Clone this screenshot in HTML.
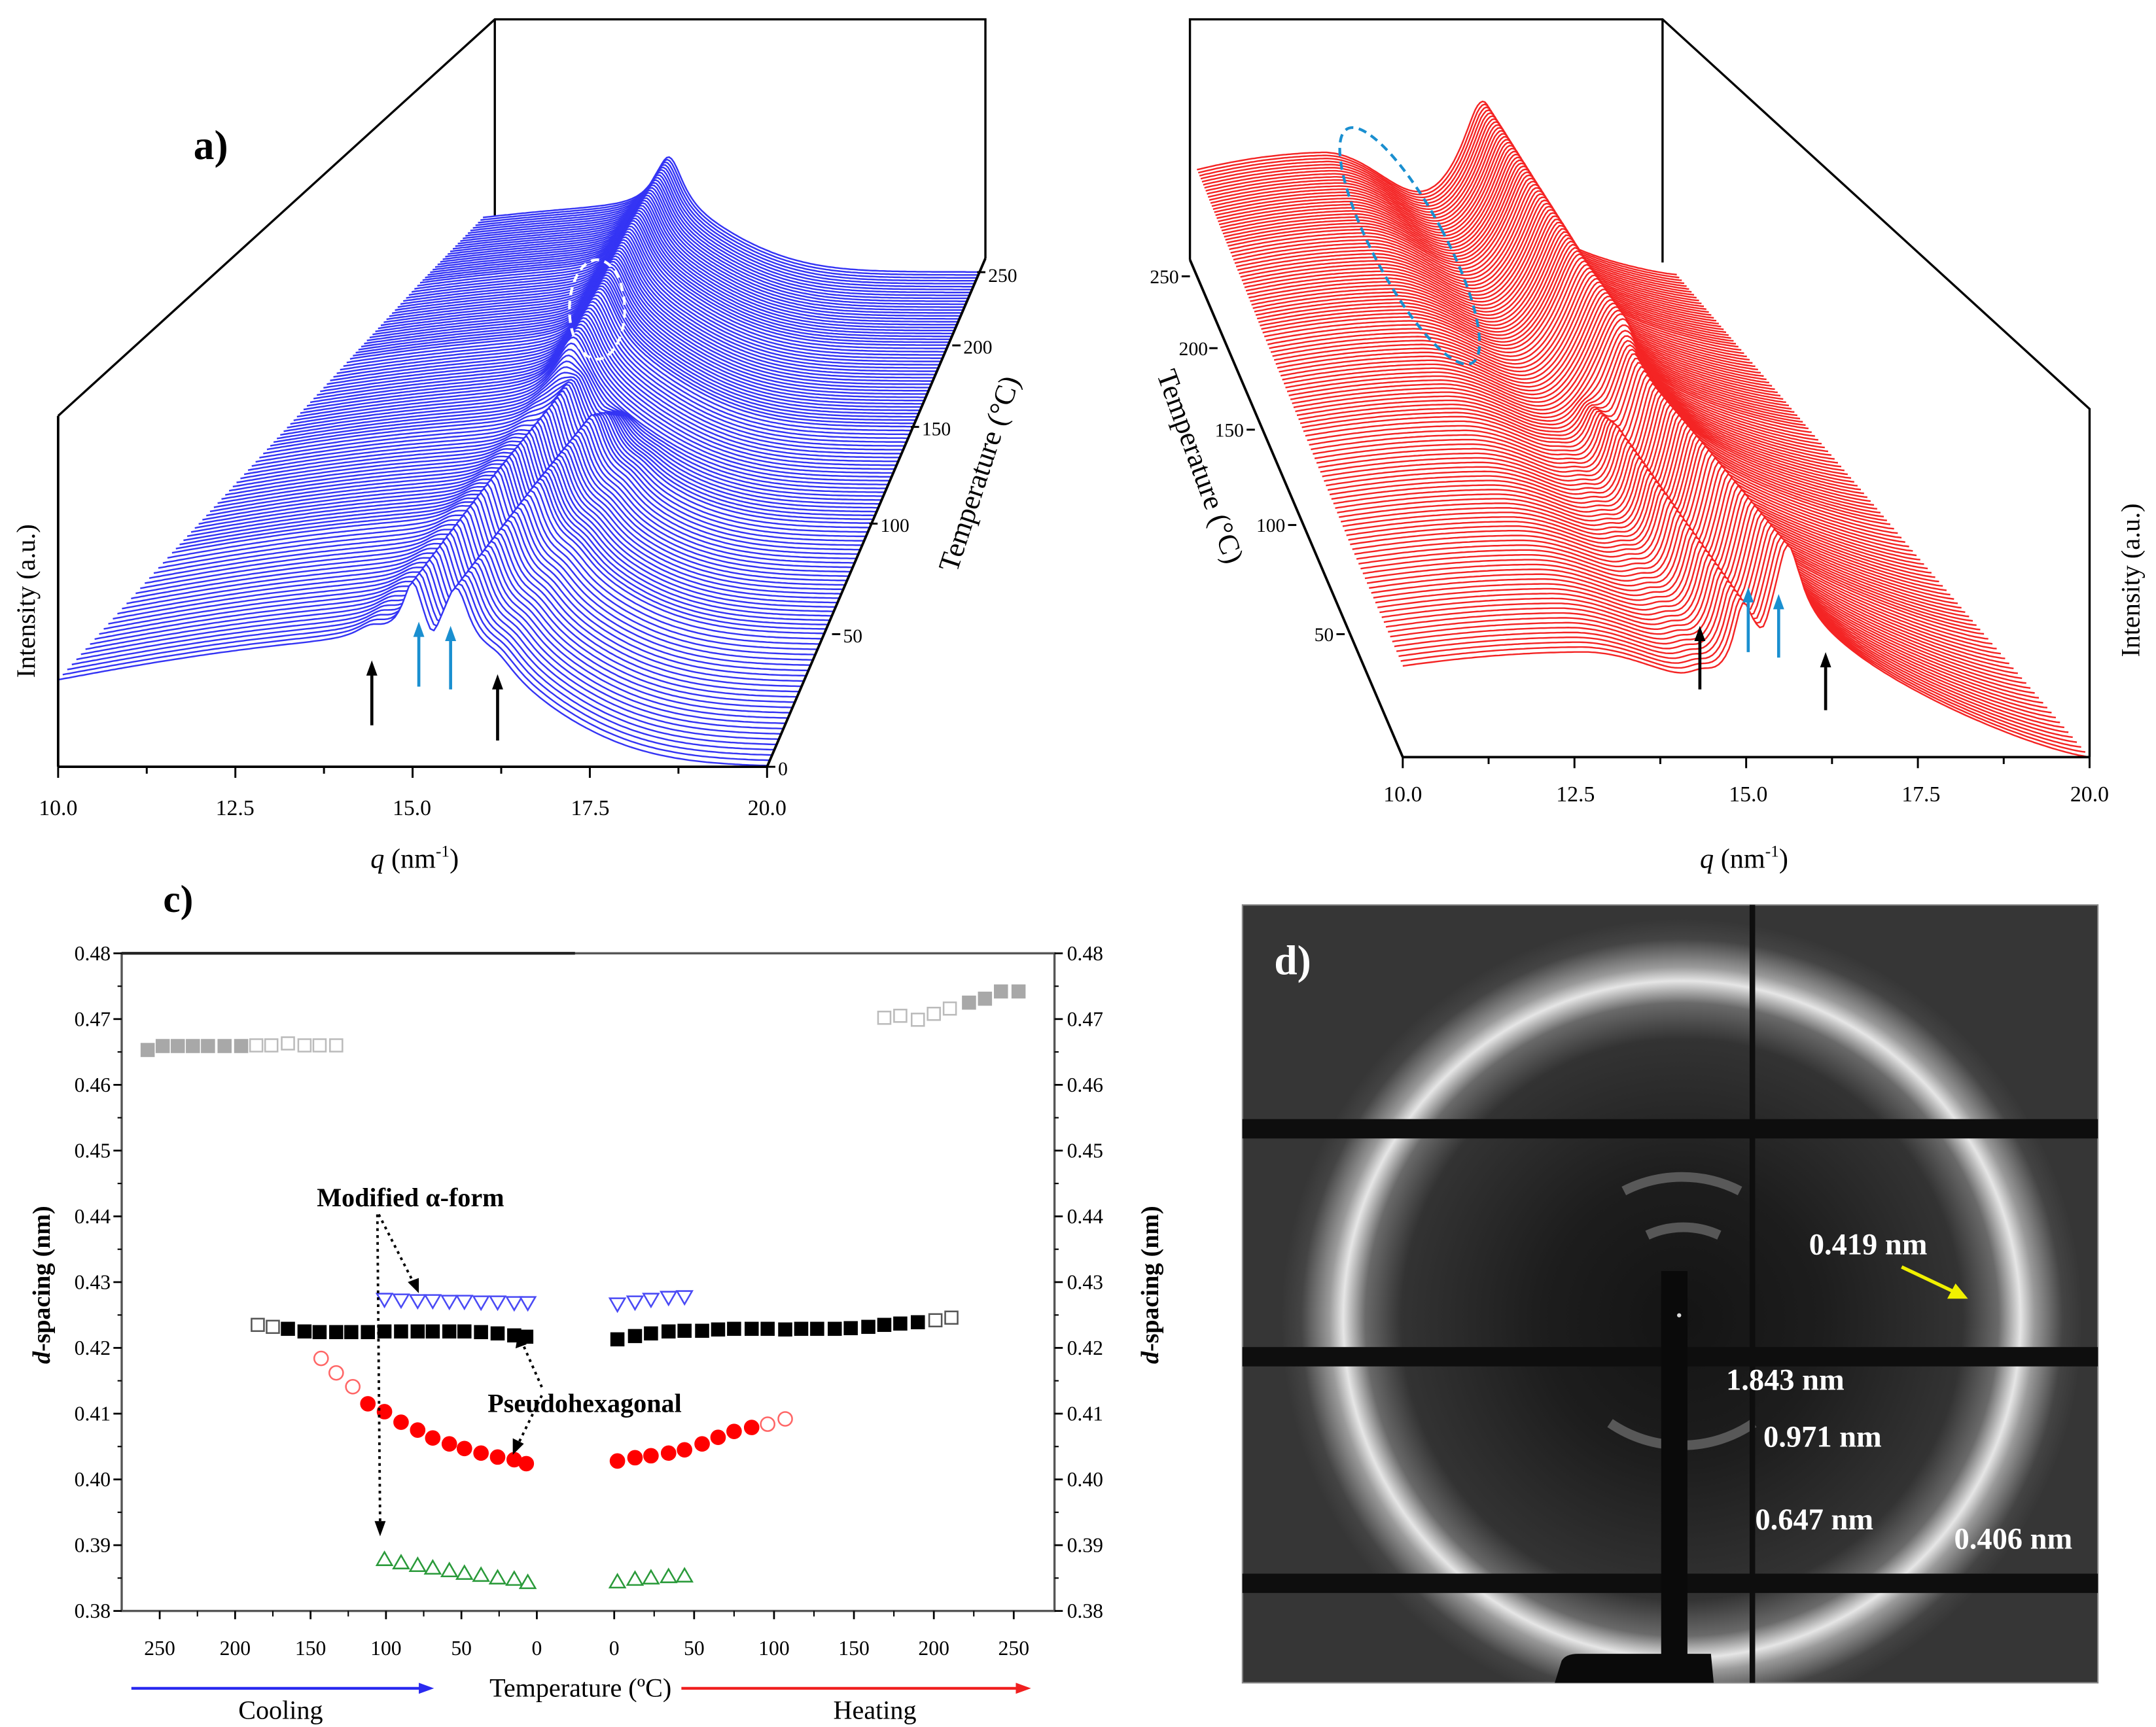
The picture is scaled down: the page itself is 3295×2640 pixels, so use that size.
<!DOCTYPE html>
<html><head><meta charset="utf-8"><style>
html,body{margin:0;padding:0;background:#fff;}
svg{display:block;}
text{font-family:"Liberation Serif",serif;}
</style></head><body>
<svg id="fig" width="3295" height="2640" viewBox="0 0 1560 1250" xmlns="http://www.w3.org/2000/svg">
<defs>
<radialGradient id="ringGrad" gradientUnits="userSpaceOnUse" cx="1217" cy="955" r="290">
<stop offset="0" stop-color="#141414"/><stop offset="0.35" stop-color="#1d1d1d"/><stop offset="0.7" stop-color="#333"/>
<stop offset="0.79" stop-color="#6a6a6a"/><stop offset="0.845" stop-color="#e6e6e6"/><stop offset="0.88" stop-color="#9a9a9a"/>
<stop offset="0.95" stop-color="#444"/><stop offset="1" stop-color="#363636"/></radialGradient>
</defs>
<g id="panelA">
<g stroke="#000" stroke-width="1.6" fill="none">
<polyline points="42,301 358,14 713,14 713,187"/><line x1="358" y1="14" x2="358" y2="190"/>
</g>
<g id="wfA"></g>
<g stroke="#000" stroke-width="1.8" fill="none">
<line x1="42" y1="301" x2="42" y2="555"/><line x1="42" y1="555" x2="555" y2="555"/><line x1="555" y1="555" x2="713" y2="187"/>
</g>
<g id="ticksA" stroke="#000" stroke-width="1.4"></g>
<text x="140" y="115" font-size="30" font-weight="bold">a)</text>
<g font-size="16" text-anchor="middle">
<text x="42" y="590">10.0</text><text x="170" y="590">12.5</text><text x="298" y="590">15.0</text><text x="427" y="590">17.5</text><text x="555" y="590">20.0</text></g>
<g font-size="14">
<text x="563" y="561">0</text><text x="610" y="465">50</text><text x="637" y="385">100</text><text x="667" y="315">150</text><text x="697" y="256">200</text><text x="715" y="204">250</text></g>
<text x="300" y="628" font-size="20" text-anchor="middle"><tspan font-style="italic">q</tspan> (nm<tspan font-size="12" dy="-8">-1</tspan><tspan dy="8">)</tspan></text>
<text transform="translate(25,435) rotate(-90)" font-size="19" text-anchor="middle">Intensity (a.u.)</text>
<text transform="translate(715,345) rotate(-72)" font-size="21" text-anchor="middle">Temperature (°C)</text>
<ellipse cx="432" cy="224" rx="20" ry="36" fill="none" stroke="#fff" stroke-width="2" stroke-dasharray="6,4"/>
</g>
<g id="panelB">
<g stroke="#000" stroke-width="1.6" fill="none">
<polyline points="861,188 861,14 1203,14 1512,296 1512,548"/><line x1="1203" y1="14" x2="1203" y2="190"/>
</g>
<g id="wfB"></g>
<g stroke="#000" stroke-width="1.8" fill="none">
<line x1="1015" y1="548" x2="1512" y2="548"/><line x1="1015" y1="548" x2="861" y2="188"/>
</g>
<g id="ticksB" stroke="#000" stroke-width="1.4"></g>
<g font-size="16" text-anchor="middle">
<text x="1015" y="580">10.0</text><text x="1140" y="580">12.5</text><text x="1265" y="580">15.0</text><text x="1390" y="580">17.5</text><text x="1512" y="580">20.0</text></g>
<g font-size="14" text-anchor="end">
<text x="853" y="205">250</text><text x="874" y="257">200</text><text x="900" y="316">150</text><text x="930" y="385">100</text><text x="965" y="464">50</text></g>
<text x="1262" y="628" font-size="20" text-anchor="middle"><tspan font-style="italic">q</tspan> (nm<tspan font-size="12" dy="-8">-1</tspan><tspan dy="8">)</tspan></text>
<text transform="translate(1548,420) rotate(-90)" font-size="19" text-anchor="middle">Intensity (a.u.)</text>
<text transform="translate(862,340) rotate(70)" font-size="21" text-anchor="middle">Temperature (°C)</text>
<ellipse cx="1020" cy="178" rx="26" ry="96" transform="rotate(-28 1020 178)" fill="none" stroke="#1a8fd0" stroke-width="2" stroke-dasharray="6,4"/>
</g>
<g id="peakArrows" stroke-width="2.2"></g>
<g id="panelC">
<text x="118" y="660" font-size="28" font-weight="bold">c)</text>
<rect x="88" y="690" width="675" height="476" fill="none" stroke="#555" stroke-width="1.6"/>
<line x1="88" y1="690" x2="416" y2="690" stroke="#222" stroke-width="2"/>
<g id="axesC"></g>
<g id="marksC"></g>
<text transform="translate(36,930) rotate(-90)" font-size="18" font-weight="bold" text-anchor="middle"><tspan font-style="italic">d</tspan>-spacing (nm)</text>
<text transform="translate(838,930) rotate(-90)" font-size="18" font-weight="bold" text-anchor="middle"><tspan font-style="italic">d</tspan>-spacing (nm)</text>
<text x="420" y="1228" font-size="19" text-anchor="middle">Temperature (ºC)</text>
<g><line x1="95" y1="1222" x2="305" y2="1222" stroke="#2a2af0" stroke-width="2"/><polygon points="314,1222 303,1218 303,1226" fill="#2a2af0"/></g>
<text x="203" y="1244" font-size="19" text-anchor="middle">Cooling</text>
<g><line x1="493" y1="1222" x2="737" y2="1222" stroke="#f02020" stroke-width="2"/><polygon points="746,1222 735,1218 735,1226" fill="#f02020"/></g>
<text x="633" y="1244" font-size="19" text-anchor="middle">Heating</text>
<text x="297" y="873" font-size="19" font-weight="bold" text-anchor="middle">Modified α-form</text>
<text x="423" y="1022" font-size="19" font-weight="bold" text-anchor="middle">Pseudohexagonal</text>
<g stroke="#000" stroke-width="1.8" stroke-dasharray="2,3" fill="none">
<line x1="273" y1="879" x2="275" y2="1104"/><line x1="274" y1="879" x2="300" y2="930"/>
<line x1="392" y1="1004" x2="377" y2="970"/><line x1="392" y1="1010" x2="374" y2="1047"/>
</g>
<g fill="#000">
<polygon points="275,1112 271,1101 279,1101"/><polygon points="303,936 295,928 303,925"/>
<polygon points="375,964 373,976 381,973"/><polygon points="371,1053 371,1041 379,1045"/>
</g>
</g>
<g id="panelD">
<rect x="899" y="655" width="619" height="563" fill="url(#ringGrad)" stroke="#888" stroke-width="1"/>
<g fill="none" stroke="#8a8a8a" stroke-width="7" opacity="0.55">
<path d="M1175,862 A92,92 0 0 1 1259,862"/><path d="M1192,894 A62,62 0 0 1 1244,894"/>
<path d="M1165,1030 A92,92 0 0 0 1269,1030"/>
</g>
<g fill="#0e0e0e">
<rect x="899" y="810" width="619" height="14"/><rect x="899" y="975" width="619" height="14"/><rect x="899" y="1139" width="619" height="14"/>
<rect x="1266" y="655" width="4" height="563"/>
</g>
<g fill="#0a0a0a">
<rect x="1202" y="920" width="19" height="285"/><path d="M1125,1218 L1130,1202 Q1133,1197 1142,1197 L1238,1197 L1240,1218 Z"/>
</g>
<circle cx="1215" cy="952" r="1.5" fill="#ddd"/>
<text x="922" y="705" font-size="30" font-weight="bold" fill="#fff">d)</text>
<g font-size="22" font-weight="bold" fill="#fff">
<text x="1309" y="908">0.419 nm</text><text x="1249" y="1006">1.843 nm</text><text x="1276" y="1047">0.971 nm</text>
<text x="1270" y="1107">0.647 nm</text><text x="1414" y="1121">0.406 nm</text></g>
<g><line x1="1376" y1="917" x2="1414" y2="935" stroke="#f0f000" stroke-width="2.5"/><polygon points="1424,940 1409,940 1415,929" fill="#f0f000"/></g>
</g>
</svg>
<script>
const coolGrayT=[258,248,238,228,218,207,196,186,176,165,154,144,133];
const coolGrayD=[0.4653,0.4659,0.4659,0.4659,0.4659,0.4659,0.4659,0.4660,0.4660,0.4663,0.4660,0.4660,0.4660];
const coolGrayFilled=[1,1,1,1,1,1,1,0,0,0,0,0,0];
const heatGrayT=[169,179,190,200,210,222,232,242,253];
const heatGrayD=[0.4702,0.4705,0.4699,0.4708,0.4716,0.4725,0.4731,0.4742,0.4742];
const heatGrayFilled=[0,0,0,0,0,1,1,1,1];
const coolBlackT=[185,175,165,154,144,133,123,112,101,90,79,69,58,48,37,26,15,7];
const coolBlackD=[0.4235,0.4232,0.4229,0.4225,0.4224,0.4224,0.4224,0.4224,0.4225,0.4225,0.4225,0.4225,0.4225,0.4225,0.4224,0.4222,0.4219,0.4217];
const coolBlackFilled=[0,0,1,1,1,1,1,1,1,1,1,1,1,1,1,1,1,1];
const heatBlackT=[2,13,23,34,44,55,65,75,86,96,107,117,127,138,148,159,169,179,190,201,211];
const heatBlackD=[0.4213,0.4218,0.4222,0.4225,0.4226,0.4226,0.4228,0.4229,0.4229,0.4229,0.4228,0.4229,0.4229,0.4229,0.4230,0.4232,0.4235,0.4237,0.4239,0.4242,0.4246];
const heatBlackFilled=[1,1,1,1,1,1,1,1,1,1,1,1,1,1,1,1,1,1,1,0,0];
const coolRedT=[143,133,122,112,101,90,79,69,58,48,37,26,15,7];
const coolRedD=[0.4184,0.4162,0.4141,0.4115,0.4103,0.4087,0.4075,0.4063,0.4054,0.4047,0.4040,0.4034,0.4030,0.4024];
const coolRedFilled=[0,0,0,1,1,1,1,1,1,1,1,1,1,1];
const heatRedT=[2,13,23,34,44,55,65,75,86,96,107];
const heatRedD=[0.4028,0.4033,0.4036,0.4040,0.4045,0.4054,0.4064,0.4073,0.4079,0.4084,0.4092];
const heatRedFilled=[1,1,1,1,1,1,1,1,1,0,0];
const coolBlueT=[101,90,79,69,58,48,37,26,15,6];
const coolBlueD=[0.4273,0.4272,0.4271,0.4271,0.4270,0.4270,0.4269,0.4269,0.4268,0.4268];
const heatBlueT=[2,13,23,34,44];
const heatBlueD=[0.4266,0.4269,0.4273,0.4276,0.4277];
const coolGreenT=[101,90,79,69,58,48,37,26,15,6];
const coolGreenD=[0.3879,0.3874,0.3870,0.3866,0.3862,0.3858,0.3855,0.3851,0.3849,0.3844];
const heatGreenT=[2,13,23,34,44];
const heatGreenD=[0.3845,0.3849,0.3851,0.3853,0.3854];
const yTicks=[0.38,0.39,0.40,0.41,0.42,0.43,0.44,0.45,0.46,0.47,0.48];
const xTickLabels=[250,200,150,100,50,0];

const coolKeyT=[0,50,100,150,200,250];
const coolRidgeQ=[15.4,15.1,14.8,14.45,14.05,13.75];
const coolRidgeH=[0.2,0.2,0.2,0.2,0.2,0.22];
const coolHaloH=[0.36,0.35,0.33,0.31,0.29,0.26];
const heatKeyT=[0,50,100,150,200,250];
const heatRidgeQ=[15.5,15.6,15.75,15.85,15.95,16.0];
const heatRidgeH=[0.2,0.22,0.26,0.32,0.38,0.45];
const heatHaloH=[0.3,0.32,0.36,0.4,0.45,0.5];
const heatTailH=[0.35,0.32,0.28,0.24,0.22,0.2];

const NS='http://www.w3.org/2000/svg';
function mk(tag,attrs,parent){const e=document.createElementNS(NS,tag);for(const k in attrs)e.setAttribute(k,attrs[k]);parent.appendChild(e);return e;}
function interp(xs,ys,x){if(x<=xs[0])return ys[0];for(let i=1;i<xs.length;i++){if(x<=xs[i]){const f=(x-xs[i-1])/(xs[i]-xs[i-1]);return ys[i-1]+f*(ys[i]-ys[i-1]);}}return ys[ys.length-1];}
function sqr(v){return v*v;}
function lor(q,c,w,h){return h/(1+sqr((q-c)/w));}
function clamp(v){return Math.max(0,Math.min(1,v));}

function coolI(q,T){
  const rq=interp(coolKeyT,coolRidgeQ,T),rh=interp(coolKeyT,coolRidgeH,T),hh=interp(coolKeyT,coolHaloH,T);
  const c=rq-0.5,w=q<c?8:2.3;
  let I=hh*Math.exp(-sqr((q-c)/w));
  const k=clamp((T-90)/30);
  const doublet=lor(q,15.0,0.17,0.15)+lor(q,15.62,0.22,0.17)+lor(q,14.4,0.25,0.03)+lor(q,16.2,0.3,0.04)-lor(q,15.28,0.12,0.06);
  I+=k*lor(q,rq,0.35,rh)+(1-k)*doublet;
  return Math.max(I,0);
}
function heatI(q,T){
  const rq=interp(heatKeyT,heatRidgeQ,T),rh=interp(heatKeyT,heatRidgeH,T),hh=interp(heatKeyT,heatHaloH,T),th=interp(heatKeyT,heatTailH,T);
  const c=12.6,w=q<c?7:2.5;
  let I=hh*Math.exp(-sqr((q-c)/w));
  I+= q>15.8 ? th*Math.pow(Math.max(0,(20-q)/4.2),1.3) : th*Math.exp(-sqr((q-15.8)/0.9));
  const k=clamp((T-85)/30);
  const doublet=lor(q,14.95,0.16,0.16)+lor(q,15.6,0.2,0.2)+lor(q,14.35,0.25,0.03)-lor(q,15.25,0.12,0.05);
  I+=k*lor(q,rq,0.5,rh)+(1-k)*doublet;
  return Math.max(I,0);
}
function waterfall(gid,cfg){
  const g=document.getElementById(gid);
  for(let T=250;T>=0;T-=2){
    const yb=interp(cfg.tickT,cfg.tickY,T);
    const f=(cfg.y0-yb)/cfg.depthH;
    const xL=cfg.xL0+cfg.dxL*f,xR=cfg.xR0+cfg.dxR*f;
    const s=cfg.sFront*(xR-xL)/(cfg.xR0-cfg.xL0);
    let line='';
    for(let q=10;q<=20.001;q+=0.05){
      const x=xL+(q-10)/10*(xR-xL),y=yb-s*cfg.fn(q,T);
      line+=(line?'L':'M')+x.toFixed(1)+','+y.toFixed(1);
    }
    const fillD=line+'L'+xR.toFixed(1)+','+yb.toFixed(1)+'L'+xL.toFixed(1)+','+yb.toFixed(1)+'Z';
    mk('path',{d:fillD,fill:'#fff',stroke:'none'},g);
    const p=mk('path',{d:line,fill:'none',stroke:cfg.color,'stroke-width':1.15,'stroke-linejoin':'round'},g);
    
    
  }
}
waterfall('wfA',{tickT:[0,50,100,150,200,250],tickY:[555,459,379,309,250,197],y0:555,depthH:368,xL0:42,dxL:316,xR0:555,dxR:158,sFront:254,fn:coolI,color:'#3434f4'});
waterfall('wfB',{tickT:[0,50,100,150,200,250],tickY:[548,459,380,311,252,200],y0:548,depthH:360,xL0:1015,dxL:-154,xR0:1512,dxR:-309,sFront:252,fn:heatI,color:'#f42424'});

(function(){
  const ta=document.getElementById('ticksA'),tb=document.getElementById('ticksB');
  for(let i=0;i<=8;i++){const x=42+i*513/8;mk('line',{x1:x,y1:555,x2:x,y2:i%2?560:563},ta);}
  for(let i=0;i<=8;i++){const x=1015+i*497/8;mk('line',{x1:x,y1:548,x2:x,y2:i%2?553:556},tb);}
  [[555,555],[602,459],[629,379],[659,309],[689,250],[707,197]].forEach(p=>mk('line',{x1:p[0],y1:p[1],x2:p[0]+6,y2:p[1]},ta));
  [[973,459],[938,380],[908,311],[881,252],[861,200]].forEach(p=>mk('line',{x1:p[0],y1:p[1],x2:p[0]-6,y2:p[1]},tb));
  const ar=document.getElementById('peakArrows');
  const arrows=[[269,525,478,'#000'],[303,497,450,'#1a8fd0'],[326,499,453,'#1a8fd0'],[360,536,488,'#000'],[1230,499,453,'#000'],[1265,472,425,'#1a8fd0'],[1287,476,430,'#1a8fd0'],[1321,514,472,'#000']];
  arrows.forEach(a=>{const l=mk('line',{x1:a[0],y1:a[1],x2:a[0],y2:a[2]+6,stroke:a[3]},ar);
    
    
    mk('polygon',{points:a[0]+','+a[2]+' '+(a[0]-4)+','+(a[2]+11)+' '+(a[0]+4)+','+(a[2]+11),fill:a[3]},ar);});
})();

const xCool=T=>388.4-T*272.9/250;
const xHeat=T=>444.4+T*289.1/250;
const yC=d=>690+(0.48-d)/0.1*476;
(function(){
  const ax=document.getElementById('axesC');
  yTicks.forEach(v=>{
    const y=yC(v);
    mk('line',{x1:82,y1:y,x2:88,y2:y,stroke:'#000','stroke-width':1.3},ax);
    mk('line',{x1:763,y1:y,x2:769,y2:y,stroke:'#000','stroke-width':1.3},ax);
    const t1=mk('text',{x:80,y:y+5,'font-size':15,'text-anchor':'end'},ax);t1.textContent=v.toFixed(2);
    
    
    const t2=mk('text',{x:772,y:y+5,'font-size':15},ax);t2.textContent=v.toFixed(2);
    
    
    if(v<0.48){const ym=yC(v+0.005);mk('line',{x1:85,y1:ym,x2:88,y2:ym,stroke:'#000','stroke-width':1},ax);mk('line',{x1:763,y1:ym,x2:766,y2:ym,stroke:'#000','stroke-width':1},ax);}
  });
  xTickLabels.forEach(v=>{
    [xCool(v),xHeat(v)].forEach(x=>{
      mk('line',{x1:x,y1:1166,x2:x,y2:1172,stroke:'#000','stroke-width':1.3},ax);
      const t=mk('text',{x:x,y:1198,'font-size':15,'text-anchor':'middle'},ax);t.textContent=v;
      
      
    });
    if(v>0){[xCool(v-25),xHeat(v-25)].forEach(x=>mk('line',{x1:x,y1:1166,x2:x,y2:1170,stroke:'#000','stroke-width':1},ax));}
  });
  const mg=document.getElementById('marksC');
  function sq(x,y,filled,col){const r=mk('rect',{x:x-4.5,y:y-4.5,width:9,height:9,fill:filled?col:'#fff',stroke:col,'stroke-width':1.2},mg);
    
    }
  function ci(x,y,filled,col){const c=mk('circle',{cx:x,cy:y,r:5,fill:filled?col:'#fff',stroke:filled?col:'#f66','stroke-width':1.2},mg);
    
    }
  function tri(x,y,down,col){const p=down?(x-5.5)+','+(y-4.5)+' '+(x+5.5)+','+(y-4.5)+' '+x+','+(y+5):(x-5.5)+','+(y+4.5)+' '+(x+5.5)+','+(y+4.5)+' '+x+','+(y-5);
    const e=mk('polygon',{points:p,fill:'#fff',stroke:col,'stroke-width':1.2},mg);
    
    }
  coolGrayT.forEach((T,i)=>sq(xCool(T),yC(coolGrayD[i]),coolGrayFilled[i],coolGrayFilled[i]?'#a8a8a8':'#bbb'));
  heatGrayT.forEach((T,i)=>sq(xHeat(T),yC(heatGrayD[i]),heatGrayFilled[i],heatGrayFilled[i]?'#a8a8a8':'#bbb'));
  coolBlackT.forEach((T,i)=>sq(xCool(T),yC(coolBlackD[i]),coolBlackFilled[i],coolBlackFilled[i]?'#000':'#555'));
  heatBlackT.forEach((T,i)=>sq(xHeat(T),yC(heatBlackD[i]),heatBlackFilled[i],heatBlackFilled[i]?'#000':'#555'));
  coolRedT.forEach((T,i)=>ci(xCool(T),yC(coolRedD[i]),coolRedFilled[i],'#f00'));
  heatRedT.forEach((T,i)=>ci(xHeat(T),yC(heatRedD[i]),heatRedFilled[i],'#f00'));
  coolBlueT.forEach((T,i)=>tri(xCool(T),yC(coolBlueD[i]),true,'#4a4af5'));
  heatBlueT.forEach((T,i)=>tri(xHeat(T),yC(heatBlueD[i]),true,'#4a4af5'));
  coolGreenT.forEach((T,i)=>tri(xCool(T),yC(coolGreenD[i]),false,'#2a9a3a'));
  heatGreenT.forEach((T,i)=>tri(xHeat(T),yC(heatGreenD[i]),false,'#2a9a3a'));
})();
</script>
</body></html>
